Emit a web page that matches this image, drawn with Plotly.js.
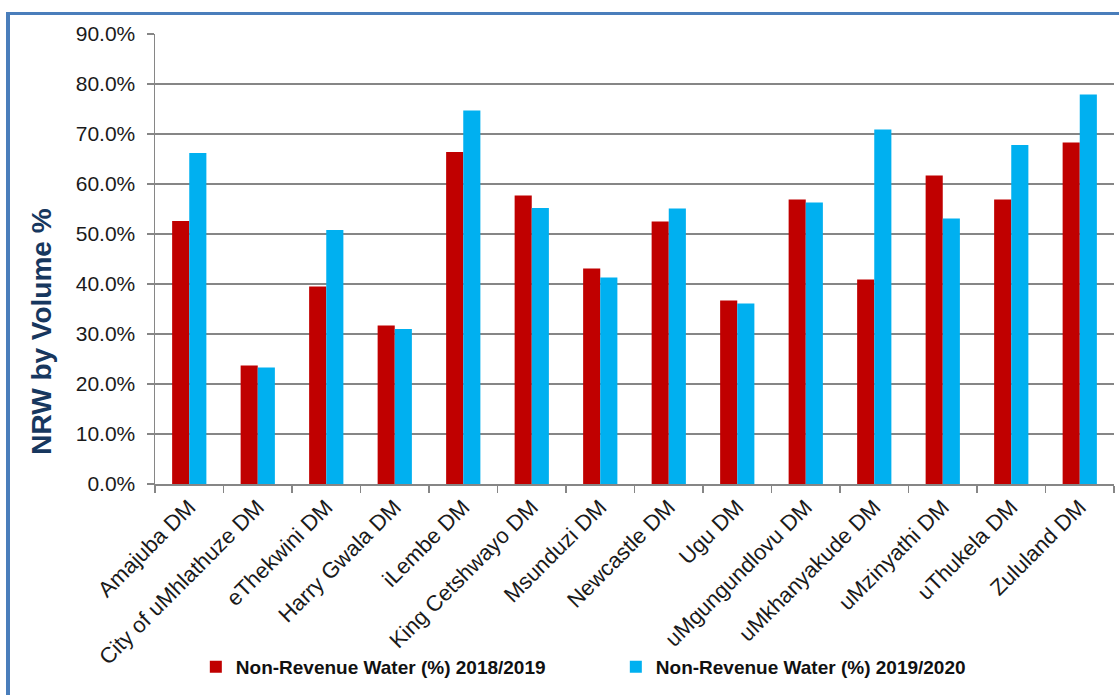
<!DOCTYPE html>
<html>
<head>
<meta charset="utf-8">
<script src="https://cdn.plot.ly/plotly-3.0.1.min.js"></script>
<style>
  html, body { margin: 0; padding: 0; background: #ffffff; }
  #chart { width: 1119px; height: 695px; }
  #frame { position: absolute; left: 6px; top: 12px; width: 1200px; height: 800px;
           border-left: 4px solid #4A7EBB; border-top: 3px solid #4A7EBB; pointer-events: none; }
</style>
</head>
<body>
<div id="chart"></div>
<div id="frame"></div>
<script>
const categories = [
  "Amajuba DM", "City of uMhlathuze DM", "eThekwini DM", "Harry Gwala DM",
  "iLembe DM", "King Cetshwayo DM", "Msunduzi DM", "Newcastle DM", "Ugu DM",
  "uMgungundlovu DM", "uMkhanyakude DM", "uMzinyathi DM", "uThukela DM", "Zululand DM"
];
const nrw2018_2019 = [52.6, 23.7, 39.5, 31.7, 66.4, 57.7, 43.1, 52.5, 36.7, 56.9, 40.9, 61.7, 56.9, 68.3];
const nrw2019_2020 = [66.2, 23.3, 50.8, 31.0, 74.7, 55.2, 41.3, 55.1, 36.1, 56.3, 70.9, 53.1, 67.8, 77.9];
const seriesNames = ["Non-Revenue Water (%) 2018/2019", "Non-Revenue Water (%) 2019/2020"];
const yTickValues = [0, 10, 20, 30, 40, 50, 60, 70, 80, 90];
const yAxisTitle = "NRW by Volume %";

const font = "Liberation Sans, Arial, sans-serif";
const gridCol = "#868686";

const traces = [
  { type: "bar", name: seriesNames[0], x: categories, y: nrw2018_2019,
    marker: { color: "#C00000" }, hoverinfo: "x+y" },
  { type: "bar", name: seriesNames[1], x: categories, y: nrw2019_2020,
    marker: { color: "#00B0F0" }, hoverinfo: "x+y" }
];

const layout = {
  width: 1119, height: 695,
  margin: { l: 155, r: 5, t: 34, b: 211 },
  paper_bgcolor: "#ffffff", plot_bgcolor: "#ffffff",
  font: { family: font, color: "#1a1a1a" },
  barmode: "group", bargap: 0.5, bargroupgap: 0,
  showlegend: true,
  legend: {
    orientation: "h", xref: "container", yref: "container",
    x: 0.175, xanchor: "left", y: 0.0403, yanchor: "middle",
    entrywidth: 375, entrywidthmode: "pixels",
    font: { family: font, size: 19, color: "#111111", weight: "bold" },
    bgcolor: "rgba(0,0,0,0)", traceorder: "normal"
  },
  xaxis: {
    type: "category", tickangle: -45, tickson: "boundaries",
    ticks: "outside", ticklen: 7, tickcolor: gridCol, tickwidth: 1.5,
    showline: true, linecolor: gridCol, linewidth: 1.5,
    showgrid: false, zeroline: false,
    tickfont: { family: font, size: 22, color: "#1a1a1a" }
  },
  yaxis: {
    range: [0, 90], tickvals: yTickValues,
    ticktext: yTickValues.map(v => v.toFixed(1) + "%"),
    ticks: "outside", ticklen: 7, tickcolor: gridCol, tickwidth: 1.5,
    ticklabelstandoff: 7,
    showline: true, linecolor: gridCol, linewidth: 1.5,
    showgrid: true, gridcolor: gridCol, gridwidth: 1.5, zeroline: false,
    tickfont: { family: font, size: 21, color: "#1a1a1a" }
  },
  annotations: [{
    text: yAxisTitle, xref: "paper", yref: "paper",
    x: -0.118, y: 0.338, xanchor: "center", yanchor: "middle",
    textangle: -90, showarrow: false,
    font: { family: font, size: 28, color: "#17375E", weight: "bold" }
  }]
};

Plotly.newPlot("chart", traces, layout, { displayModeBar: false, staticPlot: true });
</script>
</body>
</html>
